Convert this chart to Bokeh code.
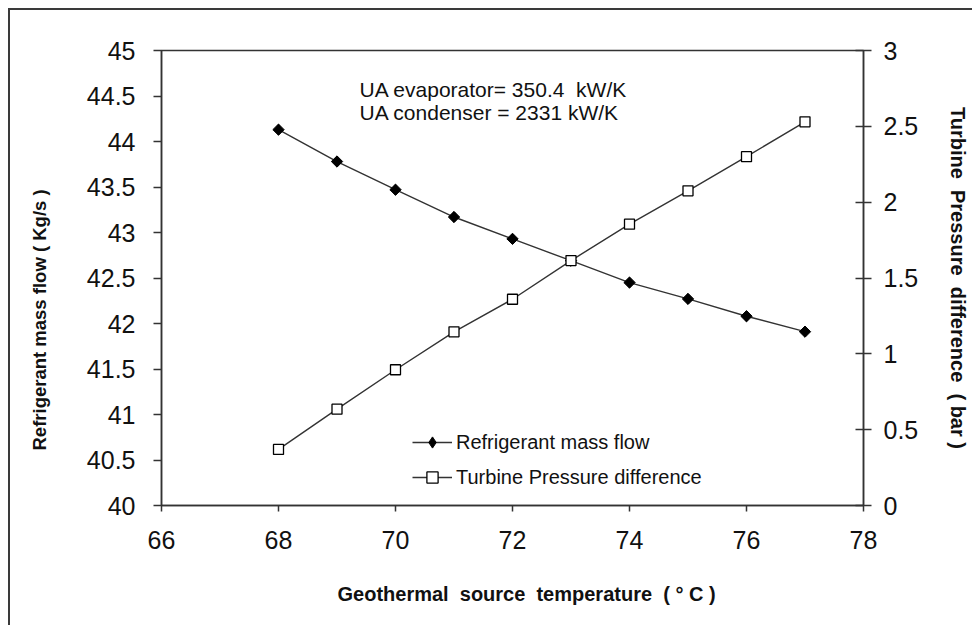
import numpy as np
from bokeh.plotting import figure
from bokeh.models import Range1d, LinearAxis, FixedTicker, Label, Legend, LegendItem, Title
from bokeh.embed import file_html
from bokeh.resources import INLINE

# ---- data ----
temps = [68, 69, 70, 71, 72, 73, 74, 75, 76, 77]
mass_flow = [44.13, 43.78, 43.47, 43.17, 42.93, 42.69, 42.45, 42.27, 42.08, 41.91]
pressure = [0.37, 0.635, 0.895, 1.145, 1.36, 1.615, 1.855, 2.075, 2.30, 2.53]

x_ticks = [66, 68, 70, 72, 74, 76, 78]
left_ticks = [40, 40.5, 41, 41.5, 42, 42.5, 43, 43.5, 44, 44.5, 45]
left_tick_labels = ["40", "40.5", "41", "41.5", "42", "42.5", "43", "43.5", "44", "44.5", "45"]
right_ticks = [0, 0.5, 1, 1.5, 2, 2.5, 3]
right_tick_labels = ["0", "0.5", "1", "1.5", "2", "2.5", "3"]

NB = "\u00a0 "  # double space that SVG keeps
series_names = ["Refrigerant mass flow", "Turbine Pressure difference"]
note_lines = ["UA evaporator= 350.4" + NB + "kW/K", "UA condenser = 2331 kW/K"]
x_title = "Geothermal" + NB + "source" + NB + "temperature" + NB + "( \u00b0 C )"
left_title = "Refrigerant mass flow ( Kg/s )"
right_title = "Turbine" + NB + "Pressure" + NB + "difference" + NB + "( bar )"

FONT = "Liberation Sans"
TXT = "#111111"
AX = "#333333"

p = figure(frame_width=702, frame_height=455, x_range=Range1d(66, 78), y_range=Range1d(40, 45),
           output_backend="svg", toolbar_location=None,
           min_border_left=151, min_border_right=95, min_border_top=40, min_border_bottom=120,
           background_fill_color="white", border_fill_color="white")
p.styles = {"margin-left": "8px", "margin-top": "8px",
            "border-left": "2px solid #3a3a3a", "border-top": "2px solid #3a3a3a"}
p.xgrid.visible = False
p.ygrid.visible = False
p.outline_line_color = AX
p.outline_line_width = 1.5

p.extra_y_ranges = {"press": Range1d(0, 3)}

# bottom axis (blank axis label only reserves room for the title below it)
xa = p.xaxis[0]
xa.ticker = FixedTicker(ticks=x_ticks)
xa.major_tick_out = 6
xa.major_tick_in = 0
xa.minor_tick_out = 0
xa.minor_tick_in = 0
xa.axis_line_color = AX
xa.axis_line_width = 1.5
xa.major_tick_line_color = AX
xa.major_tick_line_width = 1.5
xa.major_label_text_font = FONT
xa.major_label_text_font_size = "25px"
xa.major_label_text_color = TXT
xa.major_label_standoff = 19
xa.axis_label = "\u00a0"
xa.axis_label_text_font_size = "20px"
xa.axis_label_standoff = 2

# left axis
ya = p.yaxis[0]
ya.ticker = FixedTicker(ticks=left_ticks)
ya.major_label_overrides = {t: s for t, s in zip(left_ticks, left_tick_labels)}
ya.major_tick_out = 8
ya.major_tick_in = 0
ya.minor_tick_out = 0
ya.minor_tick_in = 0
ya.axis_line_color = AX
ya.axis_line_width = 1.5
ya.major_tick_line_color = AX
ya.major_tick_line_width = 1.5
ya.major_label_text_font = FONT
ya.major_label_text_font_size = "25px"
ya.major_label_text_color = TXT
ya.major_label_standoff = 18
ya.axis_label = "\u00a0"
ya.axis_label_text_font_size = "18.5px"
ya.axis_label_standoff = 4

# right axis
ra = LinearAxis(y_range_name="press", ticker=FixedTicker(ticks=right_ticks))
ra.major_label_overrides = {t: s for t, s in zip(right_ticks, right_tick_labels)}
ra.major_tick_out = 8
ra.major_tick_in = 8
ra.minor_tick_out = 0
ra.minor_tick_in = 0
ra.axis_line_color = AX
ra.axis_line_width = 1.5
ra.major_tick_line_color = AX
ra.major_tick_line_width = 1.5
ra.major_label_text_font = FONT
ra.major_label_text_font_size = "25px"
ra.major_label_text_color = TXT
ra.major_label_standoff = 12
ra.axis_label = right_title
ra.axis_label_orientation = "vertical"
ra.axis_label_text_font = FONT
ra.axis_label_text_font_size = "20px"
ra.axis_label_text_font_style = "bold"
ra.axis_label_text_color = TXT
ra.axis_label_standoff = 26
p.add_layout(ra, "right")

# series
l1 = p.line(temps, mass_flow, line_color="#333333", line_width=1.4)
# legend key shape (hidden underneath the rotated squares in the plot)
s1_key = p.scatter(temps, mass_flow, marker="diamond", size=10, fill_color="black",
                   line_color="black", line_width=1)
s1 = p.scatter(temps, mass_flow, marker="square", angle=np.pi / 4, size=8,
               fill_color="black", line_color="black", line_width=1)
l2 = p.line(temps, pressure, y_range_name="press", line_color="#333333", line_width=1.4)
s2 = p.scatter(temps, pressure, y_range_name="press", marker="square", size=10,
               fill_color="white", line_color="black", line_width=1.3)

legend = Legend(items=[LegendItem(label=series_names[0], renderers=[l1, s1_key]),
                       LegendItem(label=series_names[1], renderers=[l2, s2])],
                location=(251, 14), orientation="vertical",
                glyph_width=40, glyph_height=28, label_height=28, spacing=7,
                label_standoff=4, padding=0, margin=0,
                border_line_color=None, background_fill_alpha=0,
                label_text_font=FONT, label_text_font_size="20px", label_text_color=TXT)
p.add_layout(legend, "center")

# annotation text
for i, line in enumerate(note_lines):
    p.add_layout(Label(x=198, y=416 - 23 * i, x_units="screen", y_units="screen",
                       text=line, text_font=FONT, text_font_size="21px", text_color=TXT,
                       text_align="left", text_baseline="alphabetic"))

# axis titles on the left and bottom, offset along the axis as in the reference
p.add_layout(Title(text=left_title, align="left", offset=55, standoff=12,
                   text_font=FONT, text_font_size="18.5px", text_font_style="bold",
                   text_color=TXT), "left")
p.add_layout(Title(text=x_title, align="left", offset=176, standoff=4,
                   text_font=FONT, text_font_size="20px", text_font_style="bold",
                   text_color=TXT), "below")

open("out.html", "w").write(file_html(p, INLINE))
